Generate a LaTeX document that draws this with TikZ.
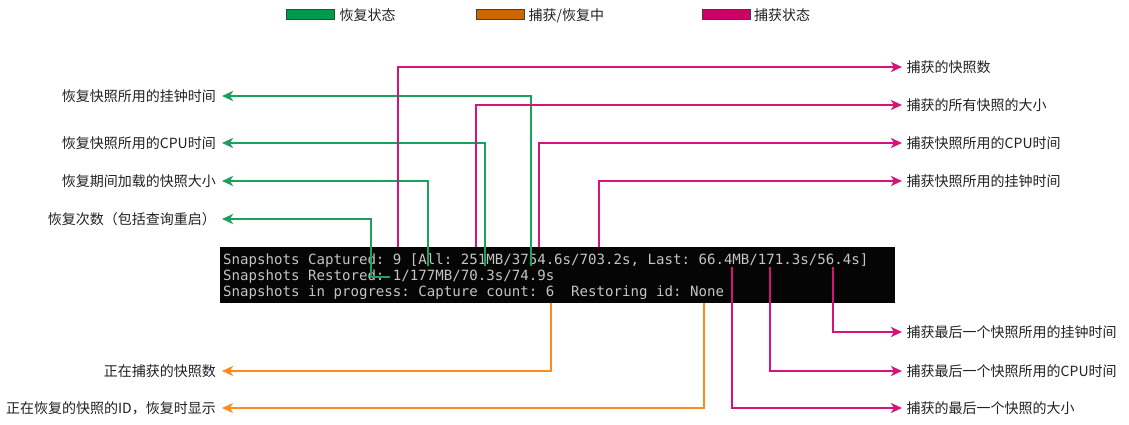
\documentclass[tikz,border=0pt]{standalone}
\usepackage{fontspec}
\newfontfamily\cjk{Noto Sans CJK SC}
\newfontfamily\term{DejaVu Sans Mono}
\usetikzlibrary{arrows.meta}
\definecolor{cgreen}{HTML}{1BA05E}
\definecolor{cmag}{HTML}{D6137A}
\definecolor{corange}{HTML}{FF8C1A}
\definecolor{lgreen}{HTML}{009A4C}
\definecolor{lorange}{HTML}{CC6600}
\definecolor{lmag}{HTML}{CC0066}
\definecolor{termbg}{HTML}{050505}
\definecolor{termfg}{HTML}{C4C4C4}
\definecolor{lbltext}{HTML}{222222}
\tikzset{
  conn/.style={line width=1.8pt, -{Stealth[length=11pt,width=10pt,inset=3pt]}},
  gconn/.style={conn, draw=cgreen, cgreen},
  mconn/.style={conn, draw=cmag, cmag},
  oconn/.style={conn, draw=corange, corange},
  lbl/.style={font=\cjk\fontsize{14}{16}\selectfont, text=lbltext, inner ysep=0pt, text height=12.3pt, text depth=1.7pt},
  lblL/.style={lbl, anchor=east, inner xsep=6pt},
  lblR/.style={lbl, anchor=west, inner xsep=4.5pt},
  legbox/.style={draw=black!75, line width=0.8pt, minimum width=48pt, minimum height=9.5pt, inner sep=0pt},
  legtext/.style={lbl, anchor=west, inner xsep=0pt},
  termtext/.style={font=\term\fontsize{14.1}{16}\selectfont\frenchspacing, text=termfg, anchor=base west, inner sep=0pt},
}
\begin{document}
\begin{tikzpicture}[x=1pt,y=-1pt]
\useasboundingbox[fill=white] (0,0) rectangle (1129,425);

% legend
\node[legbox, fill=lgreen] (kg) at (310,14.5) {};
\node[legtext] (kgt) at (339.5,15) {恢复状态};
\node[legbox, fill=lorange] (ko) at (500.3,14.5) {};
\node[legtext] (kot) at (528.5,15) {捕获/恢复中};
\node[legbox, fill=lmag] (km) at (726.3,14.5) {};
\node[legtext] (kmt) at (754,15) {捕获状态};

% terminal
\node[fill=termbg, minimum width=675pt, minimum height=56pt, anchor=north west, inner sep=0pt] (box) at (220,246.5) {};
\node[termtext] (t1) at (223,264) {Snapshots Captured: 9 [All: 251MB/3754.6s/703.2s, Last: 66.4MB/171.3s/56.4s]};
\node[termtext] (t2) at (223,280) {Snapshots Restored: 1/177MB/70.3s/74.9s};
\node[termtext] (t3) at (223,296) {Snapshots in progress: Capture count: 6\ \ Restoring id: None};

% left labels
\node[lblL] (L1) at (222,96) {恢复快照所用的挂钟时间};
\node[lblL] (L2) at (222,143) {恢复快照所用的CPU时间};
\node[lblL] (L3) at (222,181) {恢复期间加载的快照大小};
\node[lblL] (L4) at (222,219) {恢复次数（包括查询重启）};
\node[lblL] (L5) at (222,371) {正在捕获的快照数};
\node[lblL] (L6) at (222,408) {正在恢复的快照的ID，恢复时显示};

% right labels
\node[lblR] (R1) at (902,67) {捕获的快照数};
\node[lblR] (R2) at (902,105) {捕获的所有快照的大小};
\node[lblR] (R3) at (902,143) {捕获快照所用的CPU时间};
\node[lblR] (R4) at (902,181) {捕获快照所用的挂钟时间};
\node[lblR] (R5) at (902,332) {捕获最后一个快照所用的挂钟时间};
\node[lblR] (R6) at (902,371) {捕获最后一个快照所用的CPU时间};
\node[lblR] (R7) at (902,408) {捕获的最后一个快照的大小};

% connector end points
\coordinate (m1) at (398,246.5);
\coordinate (m2) at (476,246.5);
\coordinate (m3) at (539,246.5);
\coordinate (m4) at (599,246.5);
\coordinate (m5) at (833,266.5);
\coordinate (m6) at (770,266.5);
\coordinate (m7) at (732,266.5);
\coordinate (g1) at (531,266);
\coordinate (g2) at (485,266);
\coordinate (g3) at (428,266);
\coordinate (g4s) at (390,277);
\coordinate (g4) at (371,277);
\coordinate (o1) at (551,302.5);
\coordinate (o2) at (704,302.5);

% green connectors
\draw[gconn] (g1) |- (L1.east);
\draw[gconn] (g2) |- (L2.east);
\draw[gconn] (g3) |- (L3.east);
\draw[gconn] (g4s) -- (g4) |- (L4.east);

% magenta connectors
\draw[mconn] (m1) |- (R1.west);
\draw[mconn] (m2) |- (R2.west);
\draw[mconn] (m3) |- (R3.west);
\draw[mconn] (m4) |- (R4.west);
\draw[mconn] (m5) |- (R5.west);
\draw[mconn] (m6) |- (R6.west);
\draw[mconn] (m7) |- (R7.west);

% orange connectors
\draw[oconn] (o1) |- (L5.east);
\draw[oconn] (o2) |- (L6.east);
\end{tikzpicture}
\end{document}
